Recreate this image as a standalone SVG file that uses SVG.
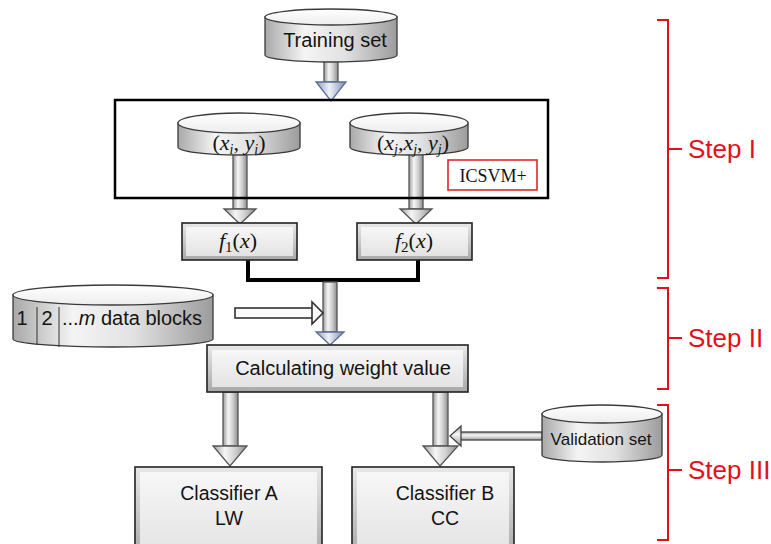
<svg xmlns="http://www.w3.org/2000/svg" width="771" height="544" viewBox="0 0 771 544">
<defs>
<linearGradient id="cylG" x1="0" y1="0" x2="1" y2="0">
<stop offset="0" stop-color="#a9a9a9"/><stop offset="0.3" stop-color="#f4f4f4"/><stop offset="0.6" stop-color="#e2e2e2"/><stop offset="1" stop-color="#9c9c9c"/>
</linearGradient>
<linearGradient id="topG" x1="0" y1="0" x2="0" y2="1">
<stop offset="0" stop-color="#ffffff"/><stop offset="1" stop-color="#ededed"/>
</linearGradient>
<linearGradient id="arrG" x1="0" y1="0" x2="1" y2="0">
<stop offset="0" stop-color="#9a9a9a"/><stop offset="0.35" stop-color="#f6f6f6"/><stop offset="0.65" stop-color="#d0d0d0"/><stop offset="1" stop-color="#8c8c8c"/>
</linearGradient>
<linearGradient id="arrGv" x1="0" y1="0" x2="0" y2="1">
<stop offset="0" stop-color="#9a9a9a"/><stop offset="0.4" stop-color="#f6f6f6"/><stop offset="1" stop-color="#a0a0a0"/>
</linearGradient>
<linearGradient id="blueG" x1="0" y1="0" x2="1" y2="0">
<stop offset="0" stop-color="#8c9cc0"/><stop offset="0.45" stop-color="#eef1f7"/><stop offset="1" stop-color="#7d8fb6"/>
</linearGradient>
<linearGradient id="bevG" x1="0" y1="0" x2="0" y2="1">
<stop offset="0" stop-color="#e8e8e8"/><stop offset="1" stop-color="#a8a8a8"/>
</linearGradient>
<linearGradient id="innG" x1="0" y1="0" x2="0" y2="1">
<stop offset="0" stop-color="#f7f7f7"/><stop offset="1" stop-color="#e3e3e3"/>
</linearGradient>
</defs>
<style>
.cyl{fill:url(#cylG);stroke:#3a3a3a;stroke-width:1.3}
.ctop{fill:url(#topG);stroke:#3a3a3a;stroke-width:1.3}
.bx{fill:url(#bevG);stroke:#222;stroke-width:1.6}
.bxi{fill:url(#innG);stroke:none}
.sh{fill:url(#arrG);stroke:#555;stroke-width:1.3}
.shv{fill:url(#arrGv);stroke:#444;stroke-width:1.3}
.hd{fill:url(#arrG);stroke:#555;stroke-width:1.3}
.bh{fill:url(#blueG);stroke:#5b6d94;stroke-width:1.3}
.lbl{font-family:"Liberation Sans",Arial,sans-serif;fill:#141414}
.math{font-family:"Liberation Serif","Times New Roman",serif;fill:#141414;font-size:22px}
.it{font-style:italic}
.sub{font-size:14px;font-style:italic}
.br{fill:none;stroke:#e3101b;stroke-width:2}
.step{font-family:"Liberation Sans",Arial,sans-serif;fill:#e3101b;font-size:26px}
</style>
<rect width="771" height="544" fill="#ffffff"/>

<g id="connectors">
<path d="M248,260 V280 H418 V260" fill="none" stroke="#000" stroke-width="4"/>
<g id="arr-train"><rect class="sh" x="324" y="58" width="14" height="24"/><polygon class="bh" points="316,82 346,82 331,101"/></g>
<g id="arr-left"><rect class="sh" x="233" y="152" width="14" height="57"/><polygon class="hd" points="224,209 256,209 240,224"/></g>
<g id="arr-right"><rect class="sh" x="409" y="152" width="14" height="57"/><polygon class="hd" points="400,209 432,209 416,224"/></g>
<g id="arr-mid"><rect class="sh" x="323" y="282" width="14" height="50"/><polygon class="bh" points="316,332 344,332 330,345"/></g>
<g id="arr-data"><rect x="235" y="308" width="78" height="10" fill="#fafafa" stroke="#333" stroke-width="1.6"/><polygon points="312,302 312,324 323,313" fill="#fafafa" stroke="#333" stroke-width="1.6"/></g>
<g id="arr-calcA"><rect class="sh" x="223" y="392" width="15" height="54"/><polygon class="hd" points="213,446 247,446 230,466"/></g>
<g id="arr-calcB"><rect class="sh" x="433" y="392" width="15" height="54"/><polygon class="hd" points="423,446 458,446 440,466"/></g>
<g id="arr-val"><rect class="shv" x="460" y="432" width="82" height="8"/><polygon class="shv" points="461,426 461,446 450,436"/></g>
</g>

<g id="icsvm-box">
<rect x="115" y="100" width="433" height="98" fill="none" stroke="#000" stroke-width="2.5"/>
</g>

<g id="training-set">
<path class="cyl" d="M265,17 V55 A66,7 0 0 0 397,55 V17 Z"/>
<ellipse class="ctop" cx="331" cy="17" rx="66" ry="8"/>
<text class="lbl" x="335" y="47" font-size="20" text-anchor="middle">Training set</text>
</g>

<g id="cyl-xy">
<path class="cyl" d="M178,123 V147 A61,8 0 0 0 300,147 V123 Z"/>
<ellipse class="ctop" cx="239" cy="123" rx="61" ry="10"/>
<text class="math" x="239" y="150" text-anchor="middle">(<tspan class="it">x</tspan><tspan class="sub" dy="4">i</tspan><tspan dy="-4">, </tspan><tspan class="it">y</tspan><tspan class="sub" dy="4">i</tspan><tspan dy="-4">)</tspan></text>
</g>

<g id="cyl-xxy">
<path class="cyl" d="M350,123 V147 A59,8 0 0 0 468,147 V123 Z"/>
<ellipse class="ctop" cx="409" cy="123" rx="59" ry="10"/>
<text class="math" x="413" y="150" text-anchor="middle">(<tspan class="it">x</tspan><tspan class="sub" dy="4">j</tspan><tspan dy="-4">,</tspan><tspan class="it">x</tspan><tspan class="sub" dy="4">j</tspan><tspan dy="-4">, </tspan><tspan class="it">y</tspan><tspan class="sub" dy="4">j</tspan><tspan dy="-4">)</tspan></text>
</g>

<g id="icsvm-label">
<rect x="448" y="160" width="89" height="30" fill="#fff" stroke="#e0262b" stroke-width="1.6"/>
<text x="493" y="182" font-family="Liberation Serif,'Times New Roman',serif" font-size="18" fill="#141414" text-anchor="middle">ICSVM+</text>
</g>

<g id="f1">
<rect class="bx" x="182" y="223" width="115" height="37"/>
<rect class="bxi" x="186" y="227" width="107" height="29"/>
<text class="math" x="238" y="248" font-size="23" text-anchor="middle"><tspan class="it">f</tspan><tspan font-size="15" dy="4">1</tspan><tspan dy="-4">(</tspan><tspan class="it">x</tspan>)</text>
</g>

<g id="f2">
<rect class="bx" x="357" y="223" width="115" height="37"/>
<rect class="bxi" x="361" y="227" width="107" height="29"/>
<text class="math" x="414" y="248" font-size="23" text-anchor="middle"><tspan class="it">f</tspan><tspan font-size="15" dy="4">2</tspan><tspan dy="-4">(</tspan><tspan class="it">x</tspan>)</text>
</g>

<g id="data-blocks">
<path class="cyl" d="M13,295 V339 A100,8 0 0 0 213,339 V295 Z"/>
<ellipse class="ctop" cx="113" cy="295" rx="100" ry="10"/>
<line x1="37" y1="307" x2="37" y2="345" stroke="#333" stroke-width="1"/>
<line x1="59" y1="307" x2="59" y2="347" stroke="#333" stroke-width="1"/>
<text class="lbl" x="22" y="325" font-size="20" text-anchor="middle">1</text>
<text class="lbl" x="47" y="325" font-size="20" text-anchor="middle">2</text>
<text class="lbl" x="62" y="325" font-size="20">...<tspan font-style="italic">m</tspan> data blocks</text>
</g>

<g id="calc">
<rect class="bx" x="207" y="345" width="261" height="47"/>
<rect class="bxi" x="212" y="350" width="251" height="37"/>
<text class="lbl" x="343" y="375" font-size="20" text-anchor="middle">Calculating weight value</text>
</g>

<g id="validation-set">
<path class="cyl" d="M542,414 V455 A60,7 0 0 0 662,455 V414 Z"/>
<ellipse class="ctop" cx="602" cy="414" rx="60" ry="9"/>
<text class="lbl" x="601" y="445" font-size="17" text-anchor="middle">Validation set</text>
</g>

<g id="classifier-a">
<rect class="bx" x="135" y="467" width="187" height="92"/>
<rect class="bxi" x="140" y="472" width="177" height="82"/>
<text class="lbl" x="229" y="500" font-size="19.5" text-anchor="middle">Classifier A</text>
<text class="lbl" x="229" y="525" font-size="19.5" text-anchor="middle">LW</text>
</g>

<g id="classifier-b">
<rect class="bx" x="352" y="467" width="162" height="92"/>
<rect class="bxi" x="357" y="472" width="152" height="82"/>
<text class="lbl" x="445" y="500" font-size="19.5" text-anchor="middle">Classifier B</text>
<text class="lbl" x="445" y="525" font-size="19.5" text-anchor="middle">CC</text>
</g>

<g id="step1">
<path class="br" d="M657,20 H668 V278 H657 M668,149 H682"/>
<text class="step" x="688" y="158">Step I</text>
</g>
<g id="step2">
<path class="br" d="M657,288 H668 V389 H657 M668,338 H682"/>
<text class="step" x="688" y="347">Step II</text>
</g>
<g id="step3">
<path class="br" d="M657,405 H668 V540 H657 M668,470 H682"/>
<text class="step" x="688" y="479">Step III</text>
</g>
</svg>
